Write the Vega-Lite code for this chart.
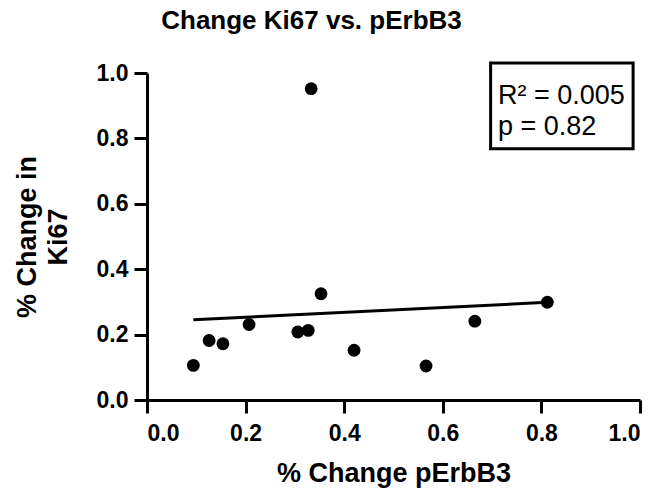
{
  "$schema": "https://vega.github.io/schema/vega-lite/v6.json",
  "width": 493,
  "height": 327,
  "autosize": {"type": "none"},
  "padding": {"left": 147, "top": 73, "right": 22, "bottom": 92},
  "background": "white",
  "title": {
    "text": "Change Ki67 vs. pErbB3",
    "font": "Liberation Sans",
    "fontSize": 26,
    "fontWeight": "bold",
    "color": "black",
    "anchor": "middle",
    "frame": "group",
    "dx": -82,
    "offset": 28
  },
  "config": {
    "view": {"stroke": null},
    "axis": {
      "grid": false,
      "domainColor": "black",
      "domainWidth": 3,
      "tickColor": "black",
      "tickWidth": 3,
      "tickSize": 13,
      "labelFont": "Liberation Sans",
      "labelFontSize": 23,
      "labelFontWeight": "bold",
      "labelColor": "black",
      "titleFont": "Liberation Sans",
      "titleFontSize": 27,
      "titleFontWeight": "bold",
      "titleColor": "black"
    }
  },
  "datasets": {
    "pts": [
      {"pErbB3": 0.094, "Ki67": 0.106},
      {"pErbB3": 0.126, "Ki67": 0.182},
      {"pErbB3": 0.154, "Ki67": 0.172},
      {"pErbB3": 0.207, "Ki67": 0.231},
      {"pErbB3": 0.306, "Ki67": 0.208},
      {"pErbB3": 0.327, "Ki67": 0.213},
      {"pErbB3": 0.333, "Ki67": 0.952},
      {"pErbB3": 0.353, "Ki67": 0.325},
      {"pErbB3": 0.420, "Ki67": 0.152},
      {"pErbB3": 0.566, "Ki67": 0.104},
      {"pErbB3": 0.665, "Ki67": 0.241},
      {"pErbB3": 0.812, "Ki67": 0.299}
    ],
    "box": [
      {"x1": 0.697, "x2": 0.986, "y1": 0.768, "y2": 1.0305}
    ],
    "labels": [
      {"x": 0.712, "y": 0.906, "label": "R² = 0.005"},
      {"x": 0.712, "y": 0.811, "label": "p = 0.82"}
    ]
  },
  "layer": [
    {
      "data": {"name": "pts"},
      "mark": {"type": "circle", "size": 165, "color": "black", "opacity": 1},
      "encoding": {
        "x": {
          "field": "pErbB3", "type": "quantitative",
          "scale": {"domain": [0, 1], "nice": false},
          "axis": {
            "title": "% Change pErbB3",
            "values": [0, 0.2, 0.4, 0.6, 0.8, 1.0],
            "format": ".1f",
            "labelPadding": 9,
            "titleY": 81,
            "titleBaseline": "alphabetic"
          }
        },
        "y": {
          "field": "Ki67", "type": "quantitative",
          "scale": {"domain": [0, 1], "nice": false},
          "axis": {
            "title": ["% Change in", "Ki67"],
            "values": [0, 0.2, 0.4, 0.6, 0.8, 1.0],
            "format": ".1f",
            "labelPadding": 6,
            "titleX": -112,
            "titleBaseline": "alphabetic",
            "titleLineHeight": 31
          }
        }
      }
    },
    {
      "data": {"name": "pts"},
      "transform": [{"regression": "Ki67", "on": "pErbB3"}],
      "mark": {"type": "line", "color": "black", "strokeWidth": 3},
      "encoding": {
        "x": {"field": "pErbB3", "type": "quantitative"},
        "y": {"field": "Ki67", "type": "quantitative"}
      }
    },
    {
      "data": {"name": "box"},
      "mark": {"type": "rect", "fill": null, "fillOpacity": 0, "stroke": "black", "strokeWidth": 3, "clip": false},
      "encoding": {
        "x": {"field": "x1", "type": "quantitative"},
        "x2": {"field": "x2"},
        "y": {"field": "y1", "type": "quantitative"},
        "y2": {"field": "y2"}
      }
    },
    {
      "data": {"name": "labels"},
      "mark": {"type": "text", "align": "left", "baseline": "alphabetic", "font": "Liberation Sans", "fontSize": 27, "color": "black"},
      "encoding": {
        "x": {"field": "x", "type": "quantitative"},
        "y": {"field": "y", "type": "quantitative"},
        "text": {"field": "label"}
      }
    }
  ]
}
